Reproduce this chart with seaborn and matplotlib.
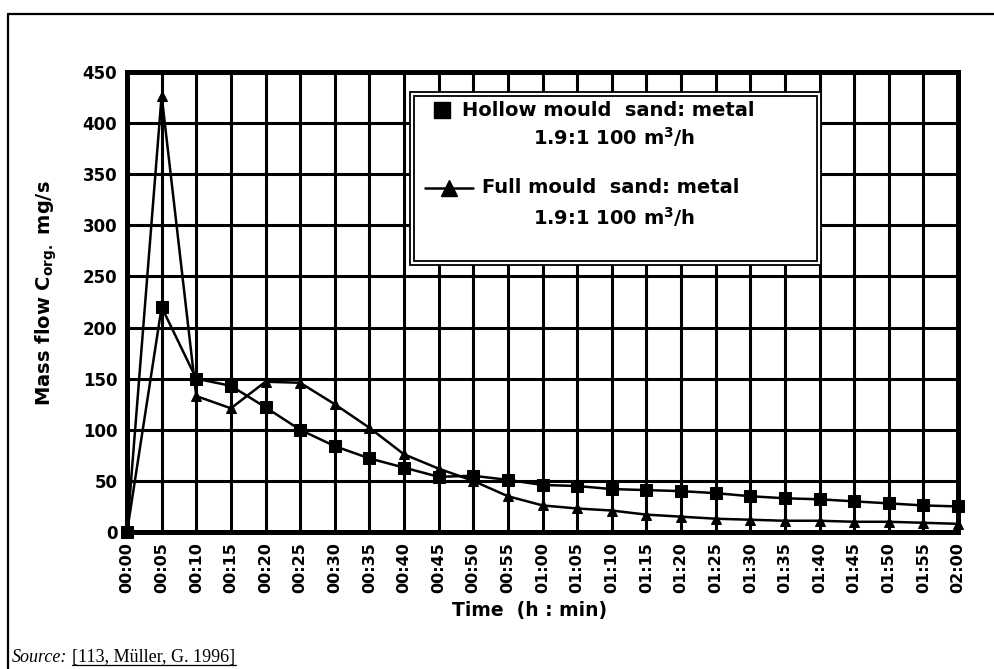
import numpy as np
import pandas as pd
import matplotlib
matplotlib.use("Agg")
import matplotlib.pyplot as plt
import seaborn as sns
from matplotlib.lines import Line2D
from matplotlib.patches import Rectangle

# ---- data ----
time_labels = ["00:00", "00:05", "00:10", "00:15", "00:20", "00:25", "00:30",
               "00:35", "00:40", "00:45", "00:50", "00:55", "01:00", "01:05",
               "01:10", "01:15", "01:20", "01:25", "01:30", "01:35", "01:40",
               "01:45", "01:50", "01:55", "02:00"]
minutes = [0, 5, 10, 15, 20, 25, 30, 35, 40, 45, 50, 55, 60, 65, 70, 75, 80,
           85, 90, 95, 100, 105, 110, 115, 120]
hollow = [0, 220, 150, 143, 122, 100, 84, 72, 63, 54, 55, 51, 46, 45, 42, 41,
          40, 38, 35, 33, 32, 30, 28, 26, 25]
full = [0, 427, 133, 121, 147, 146, 125, 102, 76, 62, 50, 35, 26, 23, 21, 17,
        15, 13, 12, 11, 11, 10, 10, 9, 8]
y_ticks = [0, 50, 100, 150, 200, 250, 300, 350, 400, 450]
series_names = ["Hollow", "Full"]
legend_line1 = ["Hollow mould  sand: metal", "Full mould  sand: metal"]
legend_line2 = r"1.9:1 100 m$^{3}$/h"

sns.set_theme(style="white")
plt.rcParams['font.family'] = ['DejaVu Sans']
plt.rcParams['text.color'] = 'black'
plt.rcParams['axes.labelcolor'] = 'black'
plt.rcParams['mathtext.fontset'] = 'custom'
plt.rcParams['mathtext.rm'] = 'DejaVu Sans:bold'
plt.rcParams['mathtext.it'] = 'DejaVu Sans:bold'
plt.rcParams['mathtext.bf'] = 'DejaVu Sans:bold'

W, H = 994, 669
fig = plt.figure(figsize=(W / 100, H / 100), dpi=100)
fig.patch.set_facecolor("white")
ax = fig.add_axes([127 / W, 137 / H, 831 / W, 460 / H])

df = pd.DataFrame({
    "time": minutes + minutes,
    "value": hollow + full,
    "series": [series_names[0]] * len(minutes) + [series_names[1]] * len(minutes),
})
sns.lineplot(data=df, x="time", y="value", hue="series", style="series",
             markers={"Hollow": "s", "Full": "^"}, dashes=False,
             palette={"Hollow": "black", "Full": "black"},
             linewidth=1.8, legend=False, ax=ax, clip_on=False, zorder=5)
for ln in ax.get_lines():
    if ln.get_marker() == "s":
        ln.set_markersize(8.5)
    elif ln.get_marker() == "^":
        ln.set_markersize(6.5)
    ln.set_markeredgecolor("black")

ax.set_xlim(0, 120)
ax.set_ylim(0, 450)
ax.set_xticks(minutes)
ax.set_xticklabels(time_labels, rotation=90, fontweight="bold", fontsize=11.5)
ax.set_yticks(y_ticks)
ax.set_yticklabels([str(v) for v in y_ticks], fontweight="bold", fontsize=12)
ax.tick_params(axis="both", length=0, colors="black", labelcolor="black")
ax.tick_params(axis="x", pad=7)
ax.tick_params(axis="y", pad=7)
ax.grid(True, color="black", linewidth=2.2)
for s in ax.spines.values():
    s.set_visible(True)
    s.set_color("black")
    s.set_linewidth(3.6)

ax.set_xlabel("Time  (h : min)", fontsize=13.5, fontweight="bold", color="black")
ax.set_ylabel(r"Mass flow C$_{\mathbf{org.}}$ mg/s", fontsize=14,
              fontweight="bold", color="black")
ax.xaxis.set_label_coords(0.485, -0.15)
ax.yaxis.set_label_coords(-0.082, 0.52)

# ---- legend box (double border) ----
x0, x1, yb, yt = 0.3405, 0.835, 0.580, 0.9565
ax.add_patch(Rectangle((x0, yb), x1 - x0, yt - yb, transform=ax.transAxes,
                       facecolor="white", edgecolor="black", lw=1.3, zorder=10))
dx, dy = 4 / 831, 4 / 460
ax.add_patch(Rectangle((x0 + dx, yb + dy), x1 - x0 - 2 * dx, yt - yb - 2 * dy,
                       transform=ax.transAxes, facecolor="white",
                       edgecolor="black", lw=1.3, zorder=11))
ax.add_line(Line2D([0.379], [0.917], transform=ax.transAxes, marker="s",
                   markersize=12, color="black", lw=0, zorder=12))
ax.text(0.403, 0.917, legend_line1[0], transform=ax.transAxes, fontsize=14,
        fontweight="bold", va="center", ha="left", zorder=12, color="black")
ax.text(0.586, 0.859, legend_line2, transform=ax.transAxes, fontsize=14,
        fontweight="bold", va="center", ha="center", zorder=12, color="black")
ax.add_line(Line2D([0.3586, 0.4164], [0.748, 0.748], transform=ax.transAxes,
                   color="black", lw=1.8, zorder=12))
ax.add_line(Line2D([0.387], [0.748], transform=ax.transAxes, marker="^",
                   markersize=12, color="black", lw=0, zorder=12))
ax.text(0.427, 0.748, legend_line1[1], transform=ax.transAxes, fontsize=14,
        fontweight="bold", va="center", ha="left", zorder=12, color="black")
ax.text(0.586, 0.685, legend_line2, transform=ax.transAxes, fontsize=14,
        fontweight="bold", va="center", ha="center", zorder=12, color="black")

# ---- outer frame ----
fig.add_artist(Line2D([8 / W, 8 / W], [0, 1 - 14 / H], transform=fig.transFigure,
                      color="black", lw=1.6))
fig.add_artist(Line2D([8 / W, 1], [1 - 14 / H, 1 - 14 / H],
                      transform=fig.transFigure, color="black", lw=1.6))

# ---- source ----
t1 = fig.text(12 / W, 1 - 662 / H, "Source:", family="Liberation Serif",
              fontstyle="italic", fontsize=13, va="baseline", color="black")
fig.canvas.draw()
r = fig.canvas.get_renderer()
bb1 = t1.get_window_extent(r)
t2 = fig.text((bb1.x1 + 5) / W, 1 - 662 / H, "[113, Müller, G. 1996]",
              family="Liberation Serif", fontsize=13, va="baseline", color="black")
fig.canvas.draw()
bb2 = t2.get_window_extent(r)
uy = (H - 662 - 2.5) / H
fig.add_artist(Line2D([bb2.x0 / W, bb2.x1 / W], [uy, uy],
                      transform=fig.transFigure, color="black", lw=0.9))

fig.savefig("out.png", dpi=100)
